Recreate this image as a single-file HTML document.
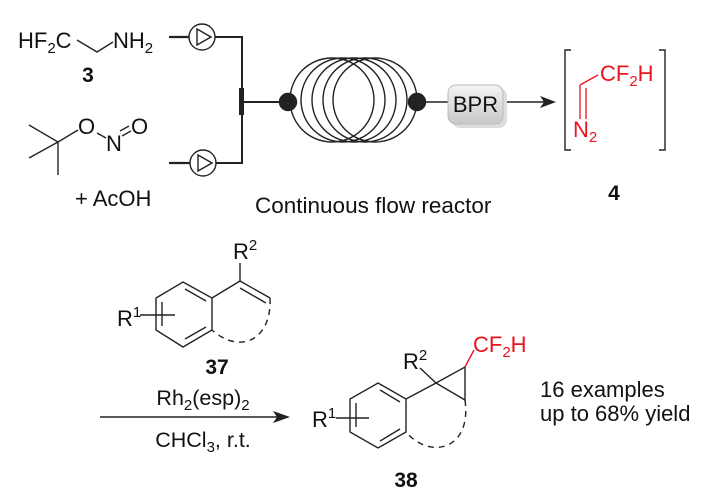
<!DOCTYPE html>
<html><head><meta charset="utf-8"><style>
html,body{margin:0;padding:0;background:#fff;}
svg{display:block;}
text{font-family:"Liberation Sans",Arial,sans-serif;}
</style></head><body>
<svg width="704" height="499" viewBox="0 0 704 499" xmlns="http://www.w3.org/2000/svg">
<defs>
<linearGradient id="g" x1="0" y1="0" x2="0" y2="1"><stop offset="0" stop-color="#f4f4f4"/><stop offset="1" stop-color="#c8c8c8"/></linearGradient>
</defs>
<g stroke="#222" stroke-width="1.4" fill="none">
<polyline points="77,40 97,52 113,42"/>
<line x1="169" y1="37" x2="189" y2="37" stroke-width="2.2"/>
<polyline points="215,37 242,37 242,163 215,163" stroke-width="2"/>
<line x1="169" y1="163" x2="190" y2="163" stroke-width="2.2"/>
<circle cx="202" cy="37" r="13" fill="#fff"/>
<polygon points="197,29 197,45 211,37"/>
<circle cx="203" cy="163" r="13" fill="#fff"/>
<polygon points="198,155 198,171 212,163"/>
<rect x="239" y="88" width="5" height="27" fill="#222" stroke="none"/>
<line x1="242" y1="102" x2="288" y2="102" stroke-width="2"/>
<line x1="29" y1="125" x2="58" y2="142"/>
<line x1="29" y1="158" x2="58" y2="142"/>
<line x1="58" y1="142" x2="58" y2="175"/>
<line x1="58" y1="142" x2="78" y2="130"/>
<line x1="97" y1="133" x2="106" y2="138"/>
<line x1="122" y1="136" x2="131" y2="131"/>
<line x1="120" y1="131" x2="129" y2="126"/>
<circle cx="332" cy="100" r="42"/>
<circle cx="343" cy="100" r="42"/>
<circle cx="354" cy="100" r="42"/>
<circle cx="365" cy="100" r="42"/>
<circle cx="375" cy="100" r="42"/>
<circle cx="288" cy="102" r="8.5" fill="#222"/>
<circle cx="417" cy="102" r="8.5" fill="#222"/>
<line x1="417" y1="102" x2="450" y2="102" stroke-width="1.6"/>
<line x1="504" y1="102" x2="545" y2="102" stroke-width="1.6"/>
</g>
<polygon points="556,102 540,96 544,102 540,108" fill="#222"/>
<rect x="452" y="88" width="55" height="40" rx="8" fill="#ddd"/>
<rect x="448" y="85" width="55" height="39" rx="8" fill="url(#g)" stroke="#bbb"/>
<text x="475.5" y="112" font-size="22" text-anchor="middle" fill="#111">BPR</text>
<g stroke="#222" stroke-width="1.4" fill="none">
<polyline points="571,50 565,50 565,150 571,150"/>
<polyline points="659,50 665,50 665,150 659,150"/>
</g>
<g stroke="#e8141e" stroke-width="1.3" fill="none">
<line x1="580" y1="85" x2="598" y2="75"/>
<line x1="580" y1="85" x2="580" y2="119"/>
<line x1="586" y1="88" x2="586" y2="119"/>
</g>
<text x="600" y="81" font-size="22" fill="#e8141e">CF<tspan font-size="15" dy="5">2</tspan><tspan dy="-5">H</tspan></text>
<text x="573" y="137" font-size="22" fill="#e8141e">N<tspan font-size="15" dy="5">2</tspan></text>
<text x="614" y="200" font-size="21" font-weight="bold" text-anchor="middle" fill="#111">4</text>
<text x="18" y="48" font-size="22" fill="#111">HF<tspan font-size="15" dy="5">2</tspan><tspan dy="-5">C</tspan></text>
<text x="113" y="48" font-size="22" fill="#111">NH<tspan font-size="15" dy="5">2</tspan></text>
<text x="88" y="82" font-size="21" font-weight="bold" text-anchor="middle" fill="#111">3</text>
<text x="78" y="134" font-size="22" fill="#111">O</text>
<text x="106" y="151" font-size="22" fill="#111">N</text>
<text x="131" y="134" font-size="22" fill="#111">O</text>
<text x="75" y="206" font-size="22" fill="#111">+ AcOH</text>
<text x="255" y="213" font-size="22.5" fill="#111">Continuous flow reactor</text>
<g stroke="#222" stroke-width="1.4" fill="none">
<polygon points="183,282 212,298 212,330 183,347 156,330 156,298"/>
<line x1="185" y1="289" x2="206" y2="301"/>
<line x1="206" y1="327" x2="185" y2="339"/>
<line x1="162" y1="302" x2="162" y2="326"/>
<line x1="140" y1="315" x2="175" y2="315"/>
<line x1="212" y1="298" x2="240" y2="281"/>
<line x1="240" y1="281" x2="240" y2="263"/>
<line x1="240" y1="281" x2="270" y2="298"/>
<line x1="240" y1="288" x2="266" y2="303"/>
<path d="M270,298 C272,340 240,355 212,330" stroke-dasharray="6,5"/>
<line x1="100" y1="417" x2="280" y2="417" stroke-width="1.6"/>
</g>
<polygon points="290,417 273,411 277,417 273,423" fill="#222"/>
<text x="233" y="259" font-size="22" fill="#111">R<tspan font-size="15" dy="-9">2</tspan></text>
<text x="117" y="326" font-size="22" fill="#111">R<tspan font-size="15" dy="-9">1</tspan></text>
<text x="217" y="374" font-size="21" font-weight="bold" text-anchor="middle" fill="#111">37</text>
<text x="203" y="405" font-size="21.5" text-anchor="middle" fill="#111">Rh<tspan font-size="15" dy="5">2</tspan><tspan dy="-5">(esp)</tspan><tspan font-size="15" dy="5">2</tspan></text>
<text x="203" y="447" font-size="21.5" text-anchor="middle" fill="#111">CHCl<tspan font-size="15" dy="5">3</tspan><tspan dy="-5">, r.t.</tspan></text>
<g stroke="#222" stroke-width="1.4" fill="none">
<polygon points="378,383 406,399 406,432 378,448 350,432 350,399"/>
<line x1="380" y1="390" x2="400" y2="402"/>
<line x1="400" y1="429" x2="380" y2="441"/>
<line x1="356" y1="403" x2="356" y2="427"/>
<line x1="336" y1="418" x2="369" y2="418"/>
<line x1="406" y1="399" x2="436" y2="383"/>
<line x1="436" y1="383" x2="420" y2="368"/>
<polygon points="436,383 465,367 465,400"/>
<path d="M465,400 C472,450 430,460 406,432" stroke-dasharray="6,5"/>
</g>
<line x1="465" y1="367" x2="474" y2="350" stroke="#e8141e" stroke-width="1.4"/>
<text x="473" y="352" font-size="22" fill="#e8141e">CF<tspan font-size="15" dy="5">2</tspan><tspan dy="-5">H</tspan></text>
<text x="403" y="369" font-size="22" fill="#111">R<tspan font-size="15" dy="-9">2</tspan></text>
<text x="312" y="427" font-size="22" fill="#111">R<tspan font-size="15" dy="-9">1</tspan></text>
<text x="406" y="487" font-size="21" font-weight="bold" text-anchor="middle" fill="#111">38</text>
<text x="540" y="397" font-size="22" fill="#111">16 examples</text>
<text x="540" y="421" font-size="22" fill="#111">up to 68% yield</text>
</svg>
</body></html>
